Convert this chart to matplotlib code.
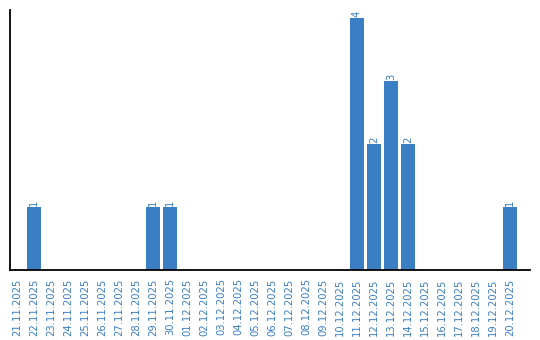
import matplotlib
matplotlib.use("Agg")
import matplotlib.pyplot as plt

dates = ["21.11.2025", "22.11.2025", "23.11.2025", "24.11.2025", "25.11.2025",
         "26.11.2025", "27.11.2025", "28.11.2025", "29.11.2025", "30.11.2025",
         "01.12.2025", "02.12.2025", "03.12.2025", "04.12.2025", "05.12.2025",
         "06.12.2025", "07.12.2025", "08.12.2025", "09.12.2025", "10.12.2025",
         "11.12.2025", "12.12.2025", "13.12.2025", "14.12.2025", "15.12.2025",
         "16.12.2025", "17.12.2025", "18.12.2025", "19.12.2025", "20.12.2025"]
counts = [0, 1, 0, 0, 0, 0, 0, 0, 1, 1,
          0, 0, 0, 0, 0, 0, 0, 0, 0, 0,
          4, 2, 3, 2, 0, 0, 0, 0, 0, 1]

blue = "#3a7ec3"

fig = plt.figure(figsize=(5.4, 3.4), dpi=100)
ax = fig.add_axes([10 / 540, 70 / 340, 520 / 540, 260 / 340])

x = list(range(len(dates)))
ax.bar(x, counts, width=0.82, color=blue)

for xi, v in zip(x, counts):
    if v > 0:
        ax.text(xi, v + 0.02, str(v), rotation=90, ha="center", va="bottom",
                fontsize=7.2, color=blue)

ax.set_xlim(-0.41, 30.18)
ax.set_ylim(0, 4.127)
ax.set_xticks(x)
ax.set_xticklabels(dates, rotation=90, fontsize=7.2, color=blue)
ax.tick_params(axis="x", length=0, pad=6)
ax.set_yticks([])
ax.spines["top"].set_visible(False)
ax.spines["right"].set_visible(False)
ax.spines["left"].set_linewidth(1.3)
ax.spines["bottom"].set_linewidth(1.3)

fig.savefig("out.png", dpi=100)
